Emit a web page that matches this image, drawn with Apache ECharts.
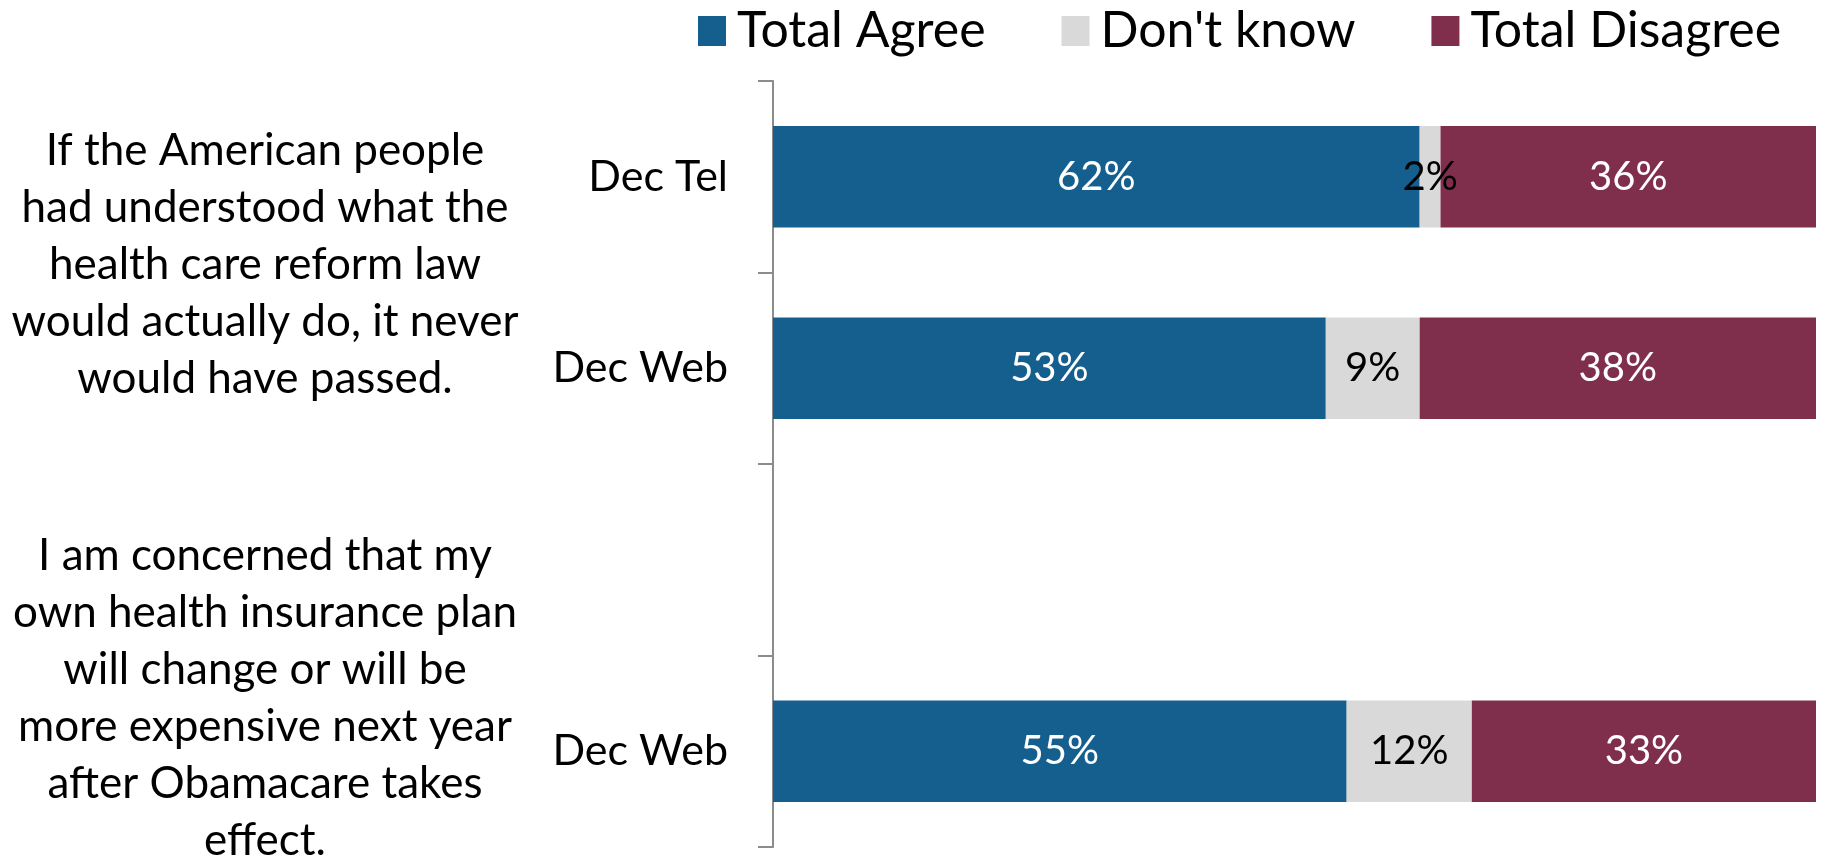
<!DOCTYPE html>
<html>
<head>
<meta charset="utf-8">
<script src="https://cdn.jsdelivr.net/npm/echarts@6/dist/echarts.min.js"></script>
<style>html,body{margin:0;padding:0;background:#fff}#c{width:1822px;height:859px}</style>
</head>
<body>
<div id="c"></div>
<script>
const categories = ["Dec Tel", "Dec Web", "", "Dec Web"];
const seriesNames = ["Total Agree", "Don't know", "Total Disagree"];
const agree = [62, 53, null, 55];
const dontKnow = [2, 9, null, 12];
const disagree = [36, 38, null, 33];
const questions = [
  "If the American people\nhad understood what the\nhealth care reform law\nwould actually do, it never\nwould have passed.",
  "I am concerned that my\nown health insurance plan\nwill change or will be\nmore expensive next year\nafter Obamacare takes\neffect."
];

const FONT = "Lato";
const colors = ["#155F8F", "#D9D9D9", "#7F2F4B"];
const labelColors = ["#ffffff", "#000000", "#ffffff"];
const values = [agree, dontKnow, disagree];

const chart = echarts.init(document.getElementById('c'));
chart.setOption({
  animation: false,
  textStyle: { fontFamily: FONT },
  legend: {
    left: 693, top: 1,
    itemWidth: 28, itemHeight: 30, itemGap: 76,
    icon: 'rect',
    textStyle: { fontSize: 50, color: '#000', fontFamily: FONT, padding: [0, 0, 0, 6] },
    data: seriesNames
  },
  grid: { left: 773, right: 6, top: 81, bottom: 12, containLabel: false },
  xAxis: { type: 'value', min: 0, max: 100, show: false },
  yAxis: {
    type: 'category', inverse: true, data: categories,
    axisLine: { show: true, lineStyle: { color: '#8C8C8C', width: 2 } },
    axisTick: { show: true, length: 15, lineStyle: { color: '#8C8C8C', width: 2 } },
    axisLabel: { fontSize: 43, color: '#000', margin: 45, fontFamily: FONT }
  },
  series: seriesNames.map((n, i) => ({
    name: n, type: 'bar', stack: 'all', barWidth: '53%',
    itemStyle: { color: colors[i] },
    label: {
      show: true, position: 'inside', formatter: p => p.value == null ? '' : p.value + '%',
      color: labelColors[i], fontSize: 40, fontFamily: FONT
    },
    data: values[i]
  })),
  graphic: questions.map((q, i) => ({
    type: 'text',
    x: 265, y: [122, 527][i],
    style: {
      text: q, textAlign: 'center', textVerticalAlign: 'top',
      fontSize: 44, lineHeight: 57, fontFamily: FONT, fill: '#000'
    }
  }))
});
</script>
</body>
</html>
